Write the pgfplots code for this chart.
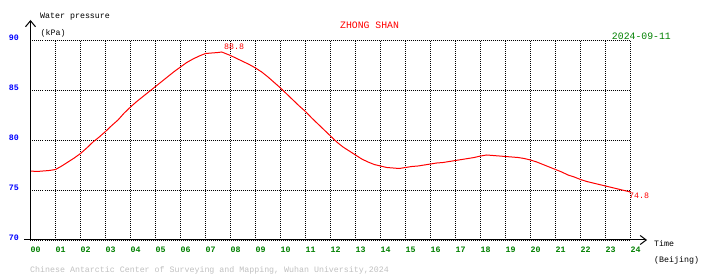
\documentclass[border=0pt]{standalone}
\usepackage{fontspec}
\setmainfont{Liberation Mono}
\usepackage{pgfplots}
\pgfplotsset{compat=1.18}
\usetikzlibrary{arrows.meta}
\definecolor{tickblue}{RGB}{0,0,255}
\definecolor{dgreen}{RGB}{0,128,0}
\definecolor{lgray}{RGB}{192,192,192}
\definecolor{pred}{RGB}{255,0,0}
\begin{document}
\begin{tikzpicture}
\useasboundingbox (0,0) rectangle (710pt,278pt);
\begin{axis}[
  at={(30.5pt,38pt)}, anchor=south west,
  scale only axis, width=600pt, height=200pt,
  xmin=0, xmax=24, ymin=70, ymax=90,
  clip=false,
  axis line style={draw=none},
  major tick length=0pt,
  grid=major,
  major grid style={black, line width=0.9pt, dash pattern=on 1pt off 1pt},
  xtick={0,...,24},
  xticklabels={00,01,02,03,04,05,06,07,08,09,10,11,12,13,14,15,16,17,18,19,20,21,22,23,24},
  ytick={70,75,80,85,90},
  yticklabels={70,75,80,85,90},
  /pgf/number format/assume math mode=true,
  xticklabel style={anchor=north west, inner sep=0pt, text=dgreen, font=\fontsize{8.3}{9}\selectfont\bfseries, yshift=-7pt, xshift=0pt},
  yticklabel style={anchor=east, inner sep=0pt, text=tickblue, font=\fontsize{8.3}{9}\selectfont\bfseries, xshift=-11.5pt, yshift=2pt},
]
\addplot[pred, line width=1pt] coordinates {
(0,76.9) (0.25,76.85) (0.5,76.9) (0.75,76.95) (1.0,77.05) (1.25,77.4) (1.5,77.8) (1.75,78.2)
(2.0,78.65) (2.25,79.2) (2.5,79.8) (2.75,80.3) (3.0,80.85) (3.25,81.45) (3.5,82.0) (3.75,82.7)
(4.0,83.3) (4.25,83.85) (4.5,84.35) (4.75,84.85) (5.0,85.35) (5.25,85.85) (5.5,86.35) (5.75,86.85)
(6.0,87.3) (6.25,87.75) (6.5,88.1) (6.75,88.4) (7.0,88.65) (7.25,88.7) (7.5,88.75) (7.65,88.8)
(7.75,88.7) (8.0,88.45) (8.25,88.15) (8.5,87.85) (8.75,87.55) (9.0,87.2) (9.25,86.8) (9.5,86.3)
(9.75,85.75) (10.0,85.2) (10.25,84.6) (10.5,84.0) (10.75,83.4) (11.0,82.85) (11.25,82.2) (11.5,81.6)
(11.75,81.0) (12.0,80.4) (12.25,79.8) (12.5,79.3) (12.75,78.9) (13.0,78.5) (13.25,78.1) (13.5,77.8)
(13.75,77.55) (14.0,77.4) (14.25,77.25) (14.5,77.2) (14.75,77.15) (15.0,77.25) (15.25,77.35) (15.5,77.4)
(15.75,77.5) (16.0,77.6) (16.25,77.7) (16.5,77.75) (16.75,77.85) (17.0,77.95) (17.25,78.05) (17.5,78.15)
(17.75,78.25) (18.0,78.4) (18.25,78.5) (18.5,78.45) (18.75,78.4) (19.0,78.35) (19.25,78.3) (19.5,78.25)
(19.75,78.15) (20.0,78.0) (20.25,77.8) (20.5,77.55) (20.75,77.3) (21.0,77.05) (21.25,76.8) (21.5,76.5)
(21.75,76.3) (22.0,76.05) (22.25,75.85) (22.5,75.7) (22.75,75.55) (23.0,75.4) (23.25,75.25) (23.5,75.1)
(23.75,74.95) (24.0,74.8)
};
\draw[black, line width=1pt, -{Straight Barb[length=6pt,width=10pt]}] (rel axis cs:0,0) -- (rel axis cs:0,1.1);
\draw[black, line width=1pt, -{Straight Barb[length=6pt,width=9pt]}] (rel axis cs:0,0) -- (rel axis cs:1.0275,0);
\draw[black, line width=1pt] (rel axis cs:0,0) -- ++(-6pt,0pt);
\node[anchor=west, inner sep=0pt, text=pred, font=\fontsize{8.3}{9}\selectfont] at (axis cs:7.74,89.33) {88.8};
\node[anchor=west, inner sep=0pt, text=pred, font=\fontsize{8.3}{9}\selectfont] at (axis cs:23.94,74.4) {74.8};
\end{axis}
\begin{scope}[every node/.style={inner sep=0pt, font=\fontsize{8.3}{9}\selectfont}]
\node[anchor=base west] at (40pt,259.3pt) {Water pressure};
\node[anchor=base west] at (40.5pt,242pt) {(kPa)};
\node[anchor=base west, text=pred, font=\fontsize{9.8}{11}\selectfont] at (340pt,249.7pt) {ZHONG SHAN};
\node[anchor=base east, text=dgreen, font=\fontsize{9.8}{11}\selectfont] at (671pt,238pt) {2024-09-11};
\node[anchor=base west] at (654pt,31pt) {Time};
\node[anchor=base west] at (654pt,15.5pt) {(Beijing)};
\node[anchor=base west, text=lgray] at (30pt,5.3pt) {Chinese Antarctic Center of Surveying and Mapping, Wuhan University,2024};
\end{scope}
\end{tikzpicture}
\end{document}
